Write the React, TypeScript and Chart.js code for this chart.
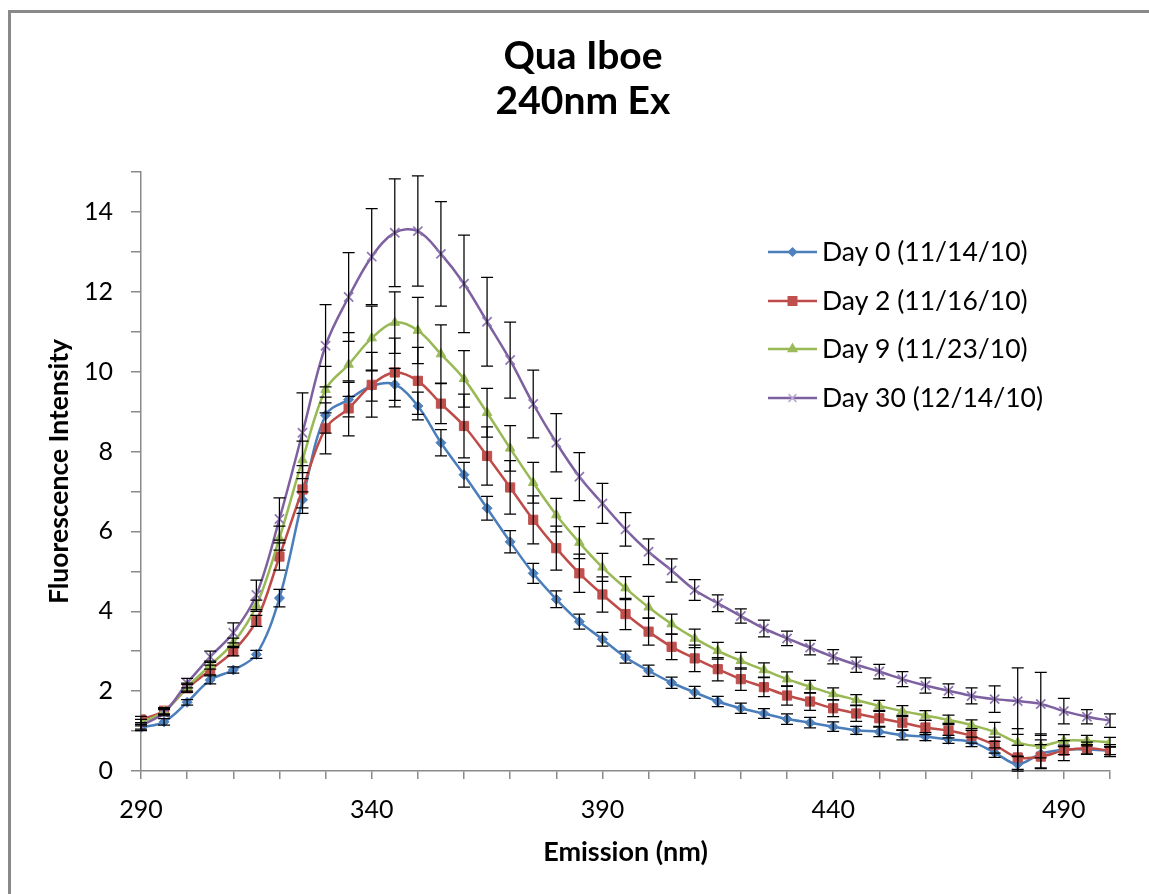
import React, { useEffect, useRef } from 'react';
import { Chart, registerables } from 'chart.js';
import { drawPoint } from 'chart.js/helpers';

Chart.register(...registerables);

const wavelengths = [
  290, 295, 300, 305, 310, 315, 320, 325, 330, 335, 340, 345, 350, 355, 360,
  365, 370, 375, 380, 385, 390, 395, 400, 405, 410, 415, 420, 425, 430, 435,
  440, 445, 450, 455, 460, 465, 470, 475, 480, 485, 490, 495, 500,
];

const day0 = [
  1.09, 1.23, 1.72, 2.28, 2.53, 2.92, 4.33, 6.79, 8.91, 9.30, 9.64, 9.68, 9.14, 8.22, 7.42,
  6.58, 5.74, 4.95, 4.30, 3.74, 3.30, 2.85, 2.51, 2.21, 1.97, 1.74, 1.57, 1.44, 1.30, 1.21,
  1.11, 1.02, 0.98, 0.90, 0.86, 0.79, 0.73, 0.46, 0.17, 0.43, 0.53, 0.54, 0.51,
];
const day0Err = [
  0.08, 0.08, 0.07, 0.1, 0.08, 0.1, 0.22, 0.2, 0.45, 0.43, 0.38, 0.4, 0.35, 0.33, 0.31,
  0.3, 0.28, 0.25, 0.21, 0.19, 0.17, 0.15, 0.14, 0.14, 0.15, 0.13, 0.13, 0.12, 0.13, 0.13,
  0.12, 0.1, 0.12, 0.12, 0.1, 0.1, 0.12, 0.12, 0.2, 0.35, 0.12, 0.12, 0.1,
];

const day2 = [
  1.29, 1.51, 2.07, 2.53, 3.00, 3.76, 5.37, 7.05, 8.58, 9.08, 9.67, 9.98, 9.77, 9.20, 8.64,
  7.89, 7.10, 6.29, 5.58, 4.95, 4.42, 3.93, 3.49, 3.11, 2.82, 2.55, 2.30, 2.10, 1.89, 1.74,
  1.57, 1.44, 1.32, 1.21, 1.09, 1.01, 0.88, 0.65, 0.34, 0.36, 0.51, 0.57, 0.51,
];
const day2Err = [
  0.08, 0.08, 0.1, 0.12, 0.12, 0.14, 0.34, 0.6, 0.64, 0.69, 0.81, 0.86, 0.84, 0.5, 0.8,
  0.73, 0.67, 0.6, 0.55, 0.48, 0.44, 0.39, 0.34, 0.32, 0.33, 0.29, 0.28, 0.24, 0.24, 0.22,
  0.21, 0.2, 0.2, 0.18, 0.18, 0.18, 0.18, 0.2, 0.3, 0.3, 0.25, 0.15, 0.15,
];

const day9 = [
  1.21, 1.49, 2.10, 2.65, 3.21, 4.14, 5.83, 7.79, 9.55, 10.18, 10.84, 11.23, 11.03, 10.44, 9.82,
  8.97, 8.08, 7.22, 6.41, 5.72, 5.10, 4.58, 4.10, 3.68, 3.32, 3.01, 2.76, 2.53, 2.30, 2.11,
  1.93, 1.78, 1.63, 1.50, 1.39, 1.28, 1.15, 0.98, 0.71, 0.63, 0.76, 0.76, 0.72,
];
const day9Err = [
  0.08, 0.08, 0.1, 0.1, 0.12, 0.14, 0.3, 0.47, 0.58, 0.8, 0.8, 0.77, 0.83, 0.73, 0.71,
  0.61, 0.57, 0.51, 0.42, 0.4, 0.35, 0.29, 0.27, 0.25, 0.23, 0.21, 0.21, 0.18, 0.18, 0.16,
  0.15, 0.13, 0.14, 0.14, 0.12, 0.12, 0.13, 0.24, 0.35, 0.3, 0.15, 0.13, 0.12,
];

const day30 = [
  1.13, 1.46, 2.20, 2.86, 3.46, 4.41, 6.31, 8.47, 10.65, 11.87, 12.88, 13.48, 13.52, 12.95, 12.20,
  11.25, 10.29, 9.19, 8.22, 7.37, 6.70, 6.05, 5.49, 5.02, 4.53, 4.20, 3.88, 3.57, 3.32, 3.09,
  2.86, 2.66, 2.49, 2.30, 2.14, 2.01, 1.88, 1.80, 1.75, 1.68, 1.50, 1.36, 1.26,
];
const day30Err = [
  0.08, 0.08, 0.12, 0.14, 0.25, 0.37, 0.53, 1.0, 1.03, 1.11, 1.2, 1.35, 1.38, 1.31, 1.22,
  1.11, 0.95, 0.85, 0.73, 0.6, 0.5, 0.42, 0.32, 0.29, 0.26, 0.21, 0.18, 0.21, 0.18, 0.18,
  0.18, 0.19, 0.18, 0.19, 0.19, 0.17, 0.2, 0.33, 0.83, 0.79, 0.32, 0.18, 0.17,
];

const seriesLabels = ['Day 0 (11/14/10)', 'Day 2 (11/16/10)', 'Day 9 (11/23/10)', 'Day 30 (12/14/10)'];
const xTickLabels = [290, 340, 390, 440, 490];
const yTickLabels = [0, 2, 4, 6, 8, 10, 12, 14];
const titleLines = ['Qua Iboe', '240nm Ex'];
const xAxisTitle = 'Emission (nm)';
const yAxisTitle = 'Fluorescence Intensity';

const FONT = 'Lato, "Open Sans", sans-serif';

const styles = [
  { line: '#4A7EBB', fill: '#4F81BD', shape: 'rectRot', r: 5, lr: 4 },
  { line: '#BE4B48', fill: '#C0504D', shape: 'rect', r: 6.5, lr: 6 },
  { line: '#98B954', fill: '#9BBB59', shape: 'triangle', r: 5.5, lr: 5 },
  { line: '#7D60A0', fill: '#8064A2', shape: 'crossRot', r: 6.5, lr: 5.5 },
];

const seriesValues = [day0, day2, day9, day30];
const seriesErrors = [day0Err, day2Err, day9Err, day30Err];

const titlePlugin = {
  id: 'centeredTitle',
  afterDraw(chart: any) {
    const { ctx } = chart;
    ctx.save();
    ctx.fillStyle = '#000';
    ctx.font = `bold 39px ${FONT}`;
    ctx.textAlign = 'center';
    ctx.textBaseline = 'middle';
    const lineY = [43, 88.5];
    titleLines.forEach((t, i) => ctx.fillText(t, 572, lineY[i]));
    ctx.restore();
  },
};

const errorBarPlugin = {
  id: 'errorBars',
  afterDatasetsDraw(chart: any) {
    const { ctx, scales } = chart;
    const x = scales.x;
    const y = scales.y;
    ctx.save();
    ctx.strokeStyle = '#000';
    ctx.lineWidth = 1.25;
    chart.data.datasets.forEach((ds: any) => {
      ds.errors.forEach((e: number, i: number) => {
        const pt = ds.data[i];
        const px = x.getPixelForValue(pt.x);
        const top = y.getPixelForValue(pt.y + e);
        const bot = y.getPixelForValue(Math.max(0, pt.y - e));
        ctx.beginPath();
        ctx.moveTo(px, top);
        ctx.lineTo(px, bot);
        ctx.moveTo(px - 6, top);
        ctx.lineTo(px + 6, top);
        ctx.moveTo(px - 6, bot);
        ctx.lineTo(px + 6, bot);
        ctx.stroke();
      });
    });
    ctx.restore();
  },
};

const legendPlugin = {
  id: 'insideLegend',
  afterDraw(chart: any) {
    const { ctx } = chart;
    const x0 = 757;
    const x1 = 806;
    const textX = 811;
    const rowY = [239, 288, 336, 385];
    ctx.save();
    chart.data.datasets.forEach((ds: any, i: number) => {
      const st = styles[i];
      const yy = rowY[i];
      ctx.strokeStyle = st.line;
      ctx.lineWidth = 2.5;
      ctx.beginPath();
      ctx.moveTo(x0, yy);
      ctx.lineTo(x1, yy);
      ctx.stroke();
      ctx.fillStyle = st.fill;
      ctx.strokeStyle = st.shape === 'crossRot' ? '#B9A8CF' : st.fill;
      ctx.lineWidth = 1.5;
      drawPoint(ctx, { pointStyle: st.shape, radius: st.lr, rotation: 0, borderWidth: 1.5 } as any, (x0 + x1) / 2, yy);
      ctx.fillStyle = '#000';
      ctx.font = `26.5px ${FONT}`;
      ctx.textBaseline = 'middle';
      ctx.textAlign = 'left';
      ctx.fillText(ds.label, textX, yy);
    });
    ctx.restore();
  },
};

export default function App() {
  const ref = useRef<HTMLCanvasElement | null>(null);

  useEffect(() => {
    if (!ref.current) return;
    const datasets = seriesValues.map((vals, i) => ({
      label: seriesLabels[i],
      data: wavelengths.map((w, j) => ({ x: w, y: vals[j] })),
      errors: seriesErrors[i],
      borderColor: styles[i].line,
      backgroundColor: styles[i].fill,
      pointBackgroundColor: styles[i].fill,
      pointBorderColor: i === 3 ? '#8F76B3' : styles[i].fill,
      pointBorderWidth: i === 3 ? 1.75 : 1,
      pointStyle: styles[i].shape,
      pointRadius: styles[i].r,
      borderWidth: 2.5,
      tension: 0.35,
      fill: false,
      order: 4 - i,
    }));

    const chart = new Chart(ref.current, {
      type: 'line',
      data: { datasets } as any,
      plugins: [errorBarPlugin, legendPlugin, titlePlugin],
      options: {
        animation: false,
        responsive: false,
        maintainAspectRatio: false,
        layout: { padding: { left: 0, right: 39, top: 159, bottom: 0 } },
        font: { family: FONT },
        plugins: {
          legend: { display: false },
          tooltip: { enabled: false },
          title: { display: false },
        },
        scales: {
          x: {
            type: 'linear',
            min: 290,
            max: 500,
            afterFit: (s: any) => {
              s.height = 115;
            },
            border: { display: true, color: '#8A8A8A', width: 1.5 },
            grid: { drawOnChartArea: false, drawTicks: true, tickLength: 8, color: '#8A8A8A', lineWidth: 1.5 },
            ticks: {
              stepSize: 10,
              autoSkip: false,
              maxRotation: 0,
              padding: 16,
              color: '#000',
              font: { family: FONT, size: 25 },
              callback: (v: any) => (xTickLabels.includes(Number(v)) ? String(v) : ''),
            },
            title: {
              display: true,
              text: xAxisTitle,
              color: '#000',
              font: { family: FONT, size: 27, weight: 'bold', lineHeight: 1.2 },
              padding: { top: 0, bottom: 18 },
            },
          },
          y: {
            type: 'linear',
            min: 0,
            max: 15,
            afterFit: (s: any) => {
              s.width = 130;
            },
            border: { display: true, color: '#8A8A8A', width: 1.5 },
            grid: { drawOnChartArea: false, drawTicks: true, tickLength: 10, color: '#8A8A8A', lineWidth: 1.5 },
            ticks: {
              stepSize: 1,
              autoSkip: false,
              padding: 18,
              color: '#000',
              font: { family: FONT, size: 25 },
              callback: (v: any) => (yTickLabels.includes(Number(v)) ? String(v) : ''),
            },
            title: {
              display: true,
              text: yAxisTitle,
              color: '#000',
              font: { family: FONT, size: 26.5, weight: 'bold', lineHeight: 1.2 },
              padding: { top: 33, bottom: 0 },
            },
          },
        },
      } as any,
    });
    return () => chart.destroy();
  }, []);

  return (
    <div
      style={{
        position: 'fixed',
        left: 8,
        top: 10,
        borderLeft: '3px solid #898989',
        borderTop: '3px solid #898989',
        width: 1160,
        height: 900,
        background: '#fff',
      }}
    >
      <canvas ref={ref} width={1138} height={873} style={{ display: 'block', width: 1138, height: 873 }} />
    </div>
  );
}
